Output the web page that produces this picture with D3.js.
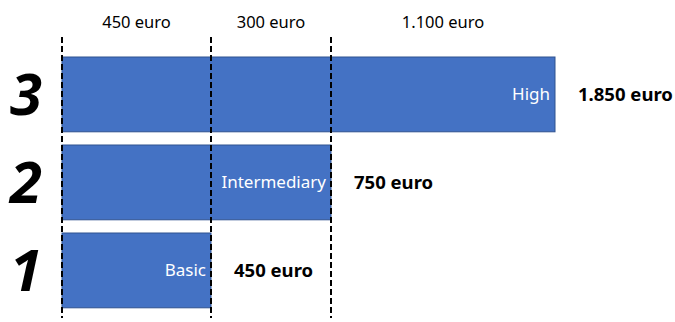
<!DOCTYPE html>
<html>
<head>
<meta charset="utf-8">
<script src="https://cdn.jsdelivr.net/npm/d3@7"></script>
<style>
  html, body { margin: 0; padding: 0; background: #fff; }
  svg { display: block; font-family: "Noto Sans", sans-serif; }
</style>
</head>
<body>
<svg id="chart" width="675" height="322"></svg>
<script>
// Levels, bottom to top
const LEVELS = ['1', '2', '3'];
const LEVEL_NAMES = ['Basic', 'Intermediary', 'High'];
const TOTALS = [450, 750, 1850];
// step labels between thresholds
const STEP_LABELS = ['450 euro', '300 euro', '1.100 euro'];
const TOTAL_LABELS = ['450 euro', '750 euro', '1.850 euro'];
const THRESHOLDS = [0, 450, 750];

const BLUE = '#4472C4';
const BLUE_EDGE = '#2F528F';

const svg = d3.select('#chart');
const left = 62;

// piecewise scale: the original chart does not draw segments proportionally
const x = d3.scaleLinear()
  .domain([0, 450, 750, 1850])
  .range([0, 149, 269, 493]);

const y = d3.scaleBand()
  .domain(LEVELS.slice().reverse())
  .range([50.4, 314.4])
  .paddingInner(0.15)
  .paddingOuter(0.075);

const g = svg.append('g').attr('transform', `translate(${left},0)`);

const rows = LEVELS.map((lvl, i) => ({ lvl, name: LEVEL_NAMES[i], total: TOTALS[i], label: TOTAL_LABELS[i] }));

// bars
g.selectAll('.bar')
  .data(rows)
  .join('rect')
    .attr('class', 'bar')
    .attr('x', x(0))
    .attr('y', d => y(d.lvl))
    .attr('width', d => x(d.total) - x(0))
    .attr('height', y.bandwidth())
    .attr('fill', BLUE)
    .attr('stroke', BLUE_EDGE)
    .attr('stroke-width', 1);

// names inside bars
g.selectAll('.bar-name')
  .data(rows)
  .join('text')
    .attr('class', 'bar-name')
    .attr('x', d => x(d.total) - 5)
    .attr('y', d => y(d.lvl) + y.bandwidth() / 2)
    .attr('dy', '0.35em')
    .attr('text-anchor', 'end')
    .style('fill', '#fff')
    .style('font-size', '17px')
    .text(d => d.name);

// totals to the right
g.selectAll('.bar-total')
  .data(rows)
  .join('text')
    .attr('class', 'bar-total')
    .attr('x', d => x(d.total) + 23)
    .attr('y', d => y(d.lvl) + y.bandwidth() / 2)
    .attr('dy', '0.35em')
    .style('fill', '#000')
    .style('font-size', '18.5px')
    .style('font-weight', 'bold')
    .text(d => d.label);

// big level numbers
svg.selectAll('.level')
  .data(rows)
  .join('text')
    .attr('class', 'level')
    .attr('x', 26)
    .attr('y', d => y(d.lvl) + y.bandwidth() / 2)
    .attr('dy', '0.36em')
    .attr('text-anchor', 'middle')
    .style('font-size', '58px')
    .style('font-weight', 'bold')
    .style('font-style', 'italic')
    .style('fill', '#000')
    .text(d => d.lvl);

// dashed threshold lines, on top of bars
g.selectAll('.threshold')
  .data(THRESHOLDS)
  .join('line')
    .attr('class', 'threshold')
    .attr('x1', d => x(d)).attr('x2', d => x(d))
    .attr('y1', 37).attr('y2', 318)
    .attr('stroke', '#000')
    .attr('stroke-width', 2)
    .attr('stroke-dasharray', '6,3');

// step labels along the top
const edges = [0, 450, 750, 1850];
g.selectAll('.step-label')
  .data(STEP_LABELS)
  .join('text')
    .attr('class', 'step-label')
    .attr('x', (d, i) => (x(edges[i]) + x(edges[i + 1])) / 2)
    .attr('y', 28)
    .attr('text-anchor', 'middle')
    .style('fill', '#000')
    .style('font-size', '16.5px')
    .text(d => d);
</script>
</body>
</html>
